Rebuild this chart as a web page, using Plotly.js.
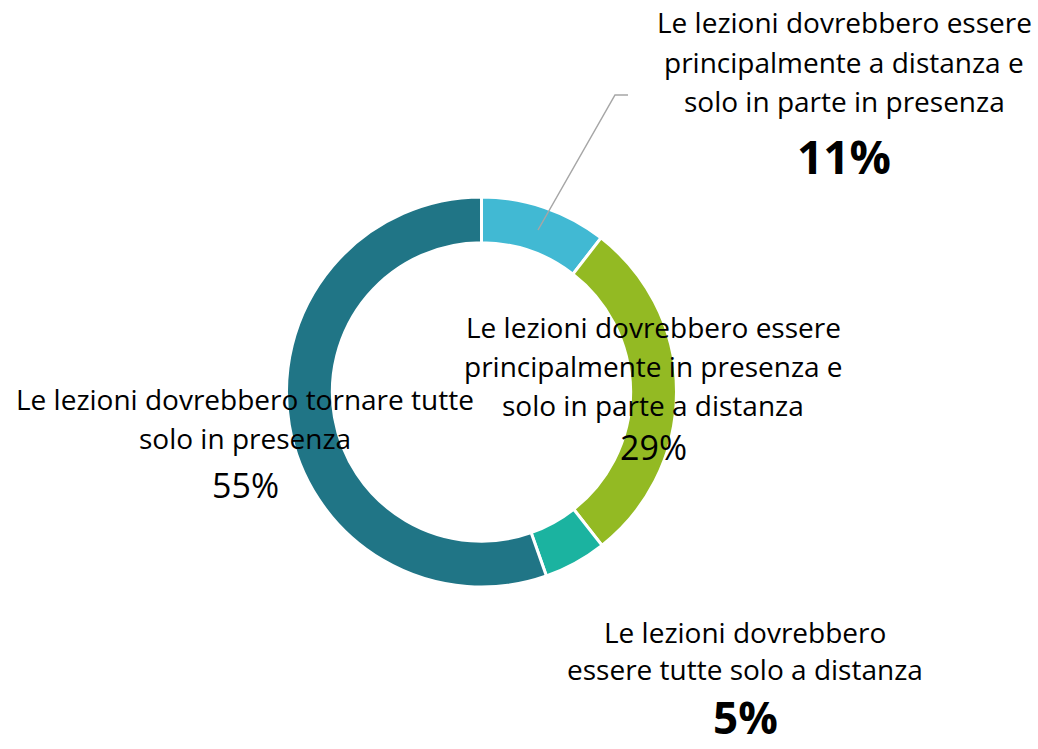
<!DOCTYPE html>
<html>
<head>
<meta charset="utf-8">
<script src="https://cdn.plot.ly/plotly-3.0.1.min.js"></script>
<style>html,body{margin:0;padding:0;background:#fff}#chart{width:1038px;height:749px}</style>
</head>
<body>
<div id="chart"></div>
<script>
// ---- data ----
const categories = [
  "Le lezioni dovrebbero essere principalmente a distanza e solo in parte in presenza",
  "Le lezioni dovrebbero essere principalmente in presenza e solo in parte a distanza",
  "Le lezioni dovrebbero essere tutte solo a distanza",
  "Le lezioni dovrebbero tornare tutte solo in presenza"
];
const values = [10.5, 28.9, 5.2, 55.4];
const labelLines = [
  ["Le lezioni dovrebbero essere", "principalmente a distanza e", "solo in parte in presenza"],
  ["Le lezioni dovrebbero essere", "principalmente in presenza e", "solo in parte a distanza"],
  ["Le lezioni dovrebbero", "essere tutte solo a distanza"],
  ["Le lezioni dovrebbero tornare tutte", "solo in presenza"]
];
const percentLabels = ["11%", "29%", "5%", "55%"];
const colors = ["#41B9D3", "#93BA23", "#1BB3A0", "#207586"];

// ---- layout helpers (pixel -> paper) ----
const W = 1038, H = 749;
const px = x => x / W;
const py = y => 1 - y / H;

// label block placement (pixel centres) and styles
const blockX = [844, 653, 745, 245];
const lineY = [[22, 62, 101], [327, 366, 405], [632, 669], [399, 438]];
const pctY = [156, 447, 717, 485];
const pctStyle = [
  {size: 46, bold: true}, {size: 34, bold: false}, {size: 44, bold: true}, {size: 34, bold: false}
];

const FONT = "'Open Sans', Lato, sans-serif";
const annotations = [];
labelLines.forEach((lines, i) => {
  lines.forEach((t, j) => {
    annotations.push({
      xref: "paper", yref: "paper", x: px(blockX[i]), y: py(lineY[i][j]),
      xanchor: "center", yanchor: "middle", showarrow: false,
      text: t, font: {family: FONT, size: 28, color: "#000"}
    });
  });
  const ps = pctStyle[i];
  annotations.push({
    xref: "paper", yref: "paper", x: px(blockX[i]), y: py(pctY[i]),
    xanchor: "center", yanchor: "middle", showarrow: false,
    text: ps.bold ? "<b>" + percentLabels[i] + "</b>" : percentLabels[i],
    font: {family: FONT, size: ps.size, color: "#000"}
  });
});

const cx = 481.5, cy = 392, R = 195;
const trace = {
  type: "pie",
  labels: categories,
  values: values,
  hole: 0.765,
  sort: false,
  direction: "clockwise",
  rotation: 0,
  textinfo: "none",
  hoverinfo: "label+percent",
  marker: {colors: colors, line: {color: "#ffffff", width: 3}},
  domain: {x: [px(cx - R), px(cx + R)], y: [py(cy + R), py(cy - R)]},
  showlegend: false
};

const layout = {
  width: W, height: H,
  margin: {l: 0, r: 0, t: 0, b: 0},
  paper_bgcolor: "#ffffff",
  plot_bgcolor: "#ffffff",
  showlegend: false,
  annotations: annotations,
  shapes: [{
    type: "path", xref: "paper", yref: "paper",
    path: `M ${px(538)} ${py(230)} L ${px(615)} ${py(95)} L ${px(628)} ${py(95)}`,
    line: {color: "#A6A6A6", width: 1.5}
  }]
};

Plotly.newPlot("chart", [trace], layout, {displayModeBar: false, staticPlot: true});
</script>
</body>
</html>
